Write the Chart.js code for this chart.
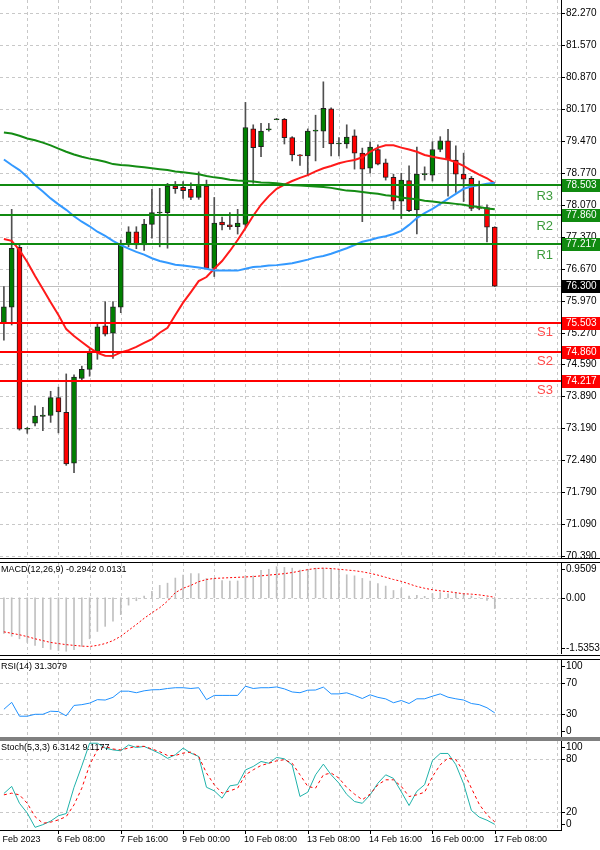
<!DOCTYPE html>
<html>
<head>
<meta charset="utf-8">
<script src="https://cdn.jsdelivr.net/npm/chart.js@4.4.1/dist/chart.umd.min.js"></script>
<style>
  body { margin: 0; background: #fff; width: 600px; height: 850px; position: relative; overflow: hidden; }
  canvas { position: absolute; left: 0; }
  .sep { position: absolute; left: 0; width: 600px; }
</style>
</head>
<body>
<canvas id="main" width="600" height="558" style="top:0px"></canvas>
<canvas id="macd" width="600" height="91" style="top:563px"></canvas>
<canvas id="rsi" width="600" height="77" style="top:660px"></canvas>
<canvas id="stoch" width="600" height="110" style="top:741px"></canvas>
<div class="sep" style="top:558px;height:1px;background:#000"></div>
<div class="sep" style="top:562px;height:1px;background:#000"></div>
<div class="sep" style="top:655px;height:1px;background:#000"></div>
<div class="sep" style="top:659px;height:1px;background:#000"></div>
<div class="sep" style="top:737px;height:4px;background:#808080"></div>
<script>
// 4H candles, oldest first
const opens  = [75.50,75.84,77.15,73.17,73.30,73.45,73.47,73.86,73.54,72.43,74.28,74.48,74.87,75.43,75.27,75.84,
                77.22,77.49,77.20,77.65,77.90,77.91,78.49,78.46,78.42,78.24,78.49,76.69,77.70,77.64,77.60,77.65,
                79.74,79.35,79.72,79.94,79.95,79.55,79.17,79.15,79.69,79.69,80.18,79.41,79.41,79.59,79.21,78.88,
                79.29,79.00,78.68,78.16,78.61,77.97,78.74,78.73,79.29,79.48,79.06,78.75,78.66,78.02,78.02,77.59];
const highs  = [76.29,77.98,77.20,73.21,73.68,73.65,74.00,74.09,74.38,74.36,74.55,74.92,75.49,75.96,75.96,77.31,
                77.60,77.60,77.76,78.42,78.44,78.55,78.59,78.59,78.56,78.80,78.62,78.24,77.81,77.91,77.98,80.32,
                79.83,79.86,79.86,79.97,79.97,79.57,79.18,79.74,80.04,80.77,80.20,79.55,79.83,79.72,79.32,79.46,
                79.39,79.08,78.75,78.77,78.93,79.34,78.91,79.46,79.57,79.73,79.37,79.21,78.70,78.60,78.08,77.60];
const lows   = [75.12,75.45,73.15,73.08,73.24,73.14,73.32,73.09,72.38,72.22,74.25,74.33,74.70,75.21,74.72,75.72,
                77.16,77.12,77.08,77.35,77.16,77.13,78.33,78.22,78.19,78.20,76.69,76.51,77.53,77.54,77.44,77.58,
                78.55,79.13,79.69,79.94,79.41,79.04,78.94,78.73,79.04,79.33,79.15,79.15,79.32,78.86,77.71,78.77,
                78.95,78.62,77.98,77.78,77.93,77.44,78.62,78.60,79.24,78.27,78.35,78.15,77.95,77.97,77.27,76.29];
const closes = [75.85,77.13,73.17,73.19,73.46,73.48,73.86,73.55,72.41,74.31,74.48,74.84,75.41,75.25,75.85,77.22,
                77.49,77.20,77.66,77.91,77.92,78.49,78.43,78.39,78.24,78.51,76.69,77.68,77.64,77.60,77.68,79.77,
                79.33,79.69,79.73,79.96,79.55,79.17,79.15,79.69,79.70,80.19,79.41,79.42,79.56,79.21,78.86,79.34,
                78.97,78.68,78.16,78.62,77.95,78.75,78.76,79.29,79.48,79.06,78.75,78.64,78.00,78.00,77.59,76.30];

// moving averages
const maRed   = [77.33,77.29,77.09,76.83,76.52,76.24,75.95,75.67,75.36,75.21,75.08,74.95,74.84,74.78,74.77,74.85,
                 74.90,74.97,75.06,75.14,75.28,75.39,75.67,75.94,76.17,76.41,76.50,76.68,76.85,77.07,77.31,77.57,
                 77.84,78.08,78.27,78.43,78.52,78.60,78.67,78.73,78.81,78.88,78.93,78.99,79.03,79.06,79.12,79.24,
                 79.33,79.38,79.38,79.33,79.29,79.24,79.17,79.13,79.10,79.07,79.01,78.93,78.83,78.74,78.66,78.55];
const maBlue  = [79.07,78.95,78.84,78.69,78.51,78.37,78.22,78.09,77.97,77.83,77.71,77.61,77.49,77.40,77.29,77.20,
                 77.12,77.05,76.99,76.91,76.85,76.81,76.77,76.75,76.73,76.71,76.68,76.64,76.64,76.64,76.64,76.68,
                 76.72,76.73,76.75,76.76,76.78,76.80,76.84,76.88,76.93,76.96,77.01,77.07,77.13,77.20,77.27,77.31,
                 77.36,77.39,77.44,77.51,77.64,77.79,77.90,77.99,78.10,78.21,78.32,78.43,78.48,78.51,78.54,78.56];
const maGreen = [79.66,79.64,79.59,79.53,79.49,79.44,79.38,79.31,79.24,79.18,79.13,79.09,79.06,79.02,78.97,78.95,
                 78.94,78.92,78.90,78.88,78.86,78.84,78.81,78.79,78.77,78.75,78.71,78.68,78.66,78.63,78.61,78.60,
                 78.59,78.57,78.56,78.55,78.53,78.51,78.50,78.49,78.48,78.47,78.45,78.42,78.39,78.38,78.36,78.34,
                 78.32,78.29,78.27,78.24,78.22,78.20,78.17,78.15,78.13,78.12,78.10,78.08,78.05,78.03,78.00,77.98];

// indicators
const macdHist = [-0.97,-1.05,-1.12,-1.22,-1.30,-1.36,-1.41,-1.44,-1.46,-1.42,-1.33,-1.12,-0.92,-0.78,-0.64,-0.46,
                  -0.20,-0.08,0.05,0.18,0.34,0.40,0.54,0.62,0.66,0.66,0.53,0.53,0.47,0.46,0.46,0.60,
                  0.60,0.75,0.78,0.85,0.83,0.81,0.76,0.78,0.81,0.81,0.80,0.76,0.63,0.60,0.53,0.46,
                  0.39,0.32,0.20,0.25,0.05,0.07,0.04,0.11,0.14,0.11,0.14,0.11,0.05,0.00,-0.07,-0.2942];
const macdSignal = [-0.93,-0.97,-1.01,-1.06,-1.12,-1.17,-1.22,-1.25,-1.28,-1.30,-1.32,-1.33,-1.30,-1.25,-1.17,-1.05,
                    -0.89,-0.73,-0.56,-0.41,-0.27,-0.09,0.14,0.26,0.34,0.44,0.50,0.53,0.54,0.55,0.56,0.57,
                    0.58,0.60,0.62,0.64,0.66,0.69,0.73,0.77,0.80,0.81,0.80,0.78,0.76,0.74,0.71,0.67,
                    0.62,0.56,0.50,0.45,0.38,0.31,0.26,0.22,0.19,0.17,0.14,0.11,0.10,0.08,0.05,0.0131];
const rsi = [36,45,27,27,29.5,29.5,33.5,33,27.5,41,42,44,48.5,48,51.5,59.5,
             59.5,57.5,60,61.3,61.5,63,64,64,63,64,48.5,54,54,54,54,66,
             63,64,64,65,62.5,58.5,57.5,60.8,61,64.8,56,56,57.4,54,50,54.8,
             51.5,49.5,44.5,47.4,43.5,49.6,49.6,53,56,51.7,49.6,48,43.5,42,38,31.3079];
const stochMain = [41,49,30,19,3,6,10,16,18.5,48,72,97.5,97.5,92,90,89,
                   95.5,92.7,93.9,90,86,80.5,84.5,92,86.4,82.6,48,44,35.7,49.6,51,67.5,
                   71.4,77,75,81.5,80,73,37.6,42.5,62,74,62,52.6,40,32,30,39.5,
                   52.6,62,58,43,27.5,43.5,51,78,86,86,73.5,52,22,14.5,11,6.3142];
const stochSignal = [39.5,41.4,39.5,30,15,7.6,8.8,11.4,15,28.3,47,73,90,94,91,90,
                     92,94,94,91,88,83.7,83.7,86.4,87.5,82.6,64,50.8,41.4,44,47,62,
                     67.6,72.5,75,77.7,79,75,62,49,47,62,64,58.3,47.8,40.3,34,40.3,
                     50.8,56.4,56.4,49,37.6,39.5,42.5,60,73.3,80.7,79,65.7,47,29,17,9.1177];

// axes and levels
const priceTicks = [82.27,81.57,80.87,80.17,79.47,78.77,78.07,77.37,76.67,75.97,75.27,74.59,73.89,73.19,72.49,71.79,71.09,70.39];
const levelNames  = ['R3','R2','R1','S1','S2','S3'];
const levelValues = [78.503,77.860,77.217,75.503,74.860,74.217];
const lastPrice = 76.300;
const macdTicks = [0.9509, 0, -1.5353];
const macdTickLabels = ['0.9509', '0.00', '-1.5353'];
const oscTicks = [100, 70, 30, 0];
const stochTicks = [100, 80, 20, 0];
const timeTickBars = [-1, 7, 15, 23, 31, 39, 47, 55, 63];
const timeTickLabels = ['3 Feb 2023','6 Feb 08:00','7 Feb 16:00','9 Feb 00:00','10 Feb 08:00',
                        '13 Feb 08:00','14 Feb 16:00','16 Feb 00:00','17 Feb 08:00'];

const slots = 72; // bars + empty space on the right
const categories = Array.from({ length: slots }, (_, i) => i);
const FONT = '"Liberation Sans", Arial, sans-serif';

// grid, right axis, labels shared by all panes
const panel = {
  id: 'panel',
  beforeDatasetsDraw(chart, args, o) {
    const { ctx, chartArea: a, scales: { x, y } } = chart;
    ctx.save();
    ctx.strokeStyle = '#c8c8c8';
    ctx.lineWidth = 1;
    ctx.setLineDash([3, 3]);
    ctx.beginPath();
    for (let i = 3; i < slots; i += 4) {
      const px = Math.round(x.getPixelForValue(i)) + 0.5;
      ctx.moveTo(px, a.top);
      ctx.lineTo(px, a.bottom);
    }
    (o.grid || []).forEach(v => {
      const py = Math.round(y.getPixelForValue(v)) + 0.5;
      ctx.moveTo(a.left, py);
      ctx.lineTo(a.right, py);
    });
    ctx.stroke();
    ctx.restore();
  },
  afterDraw(chart, args, o) {
    const { ctx, chartArea: a, scales: { y } } = chart;
    ctx.save();
    ctx.fillStyle = '#000';
    ctx.fillRect(Math.round(a.right), 0, 1, o.axisToBottom ? a.bottom + 1 : chart.height);
    ctx.font = '10px ' + FONT;
    ctx.textBaseline = 'middle';
    o.ticks.forEach((v, k) => {
      let py = y.getPixelForValue(v);
      if (o.clamp) py = Math.min(Math.max(py, a.top + 6), a.bottom - 6);
      ctx.fillRect(Math.round(a.right), Math.round(py), 4, 1);
      ctx.fillText(o.labels[k], a.right + 5, py);
    });
    if (o.title) {
      ctx.font = '9px ' + FONT;
      ctx.fillText(o.title, 1, a.top + 7);
    }
    ctx.restore();
  }
};

// support / resistance lines and price boxes
const levels = {
  id: 'levels',
  beforeDatasetsDraw(chart) {
    const { ctx, chartArea: a, scales: { y } } = chart;
    const py = Math.round(y.getPixelForValue(lastPrice)) + 0.5;
    ctx.save();
    ctx.strokeStyle = '#c0c0c0';
    ctx.lineWidth = 1;
    ctx.beginPath();
    ctx.moveTo(a.left, py);
    ctx.lineTo(a.right, py);
    ctx.stroke();
    ctx.restore();
  },
  afterDatasetsDraw(chart) {
    const { ctx, chartArea: a, scales: { y } } = chart;
    ctx.save();
    levelValues.forEach((v, k) => {
      const res = levelNames[k][0] === 'R';
      const py = Math.round(y.getPixelForValue(v));
      ctx.fillStyle = res ? '#108a10' : '#ff0000';
      ctx.fillRect(a.left, py - 1, a.right - a.left, 2);
      ctx.fillStyle = res ? '#3c9c3c' : '#ff4a4a';
      ctx.font = '13px ' + FONT;
      ctx.textAlign = 'right';
      ctx.textBaseline = 'middle';
      ctx.fillText(levelNames[k], a.right - 8, py + (res ? 11 : 9));
    });
    ctx.restore();
  },
  afterDraw(chart) {
    const { ctx, chartArea: a, scales: { y } } = chart;
    ctx.save();
    ctx.font = '10px ' + FONT;
    ctx.textBaseline = 'middle';
    const box = (v, bg) => {
      const py = Math.round(y.getPixelForValue(v));
      ctx.fillStyle = bg;
      ctx.fillRect(a.right + 1, py - 6, chart.width - a.right - 1, 13);
      ctx.fillStyle = '#fff';
      ctx.fillText(v.toFixed(3), a.right + 5, py + 0.5);
    };
    levelValues.forEach((v, k) => box(v, levelNames[k][0] === 'R' ? '#108a10' : '#ff0000'));
    box(lastPrice, '#000');
    ctx.restore();
  }
};

// time axis under the last pane
const timeAxis = {
  id: 'timeAxis',
  afterDraw(chart) {
    const { ctx, chartArea: a, scales: { x } } = chart;
    ctx.save();
    ctx.fillStyle = '#000';
    ctx.fillRect(0, Math.round(a.bottom), Math.round(a.right) + 1, 1);
    ctx.font = '9px ' + FONT;
    ctx.textBaseline = 'middle';
    timeTickBars.forEach((b, k) => {
      const px = Math.round(x.getPixelForValue(b));
      ctx.fillRect(px, Math.round(a.bottom), 1, 4);
      ctx.fillText(timeTickLabels[k], px - 1, a.bottom + 10);
    });
    ctx.restore();
  }
};

function paneOptions(min, max, bottomPad, panelOpts) {
  return {
    responsive: false,
    animation: false,
    events: [],
    layout: { padding: { left: 0, right: 39, top: 0, bottom: bottomPad } },
    plugins: { legend: { display: false }, tooltip: { enabled: false }, panel: panelOpts },
    scales: {
      x: { type: 'category', display: false, offset: true },
      y: { display: false, min: min, max: max }
    }
  };
}

const lineSet = (data, color, width, dash, order) => ({
  type: 'line', data, borderColor: color, borderWidth: width, borderDash: dash || [],
  pointRadius: 0, tension: 0, fill: false, order
});

// main price pane
new Chart(document.getElementById('main'), {
  type: 'bar',
  data: {
    labels: categories,
    datasets: [
      lineSet(maGreen, '#148c14', 2, null, 0),
      lineSet(maBlue, '#3399ff', 2, null, 0),
      lineSet(maRed, '#ff1a1a', 2, null, 0),
      {
        data: opens.map((o, i) => [o, closes[i]]),
        backgroundColor: opens.map((o, i) => closes[i] >= o ? '#008000' : '#ff0000'),
        borderColor: '#202020', borderWidth: 1, borderSkipped: false,
        barThickness: 5, minBarLength: 1, grouped: false, order: 1
      },
      {
        data: lows.map((l, i) => [l, highs[i]]),
        backgroundColor: '#505050',
        barThickness: 1, grouped: false, order: 2
      }
    ]
  },
  options: paneOptions(70.353, 82.56, 0, {
    grid: priceTicks, ticks: priceTicks, labels: priceTicks.map(v => v.toFixed(3))
  }),
  plugins: [panel, levels]
});

// MACD
new Chart(document.getElementById('macd'), {
  type: 'bar',
  data: {
    labels: categories,
    datasets: [
      lineSet(macdSignal, '#ff0000', 1, [2, 2], 0),
      { data: macdHist, backgroundColor: '#c0c0c0', barThickness: 1, order: 1 }
    ]
  },
  options: paneOptions(-1.5353, 0.9509, 0, {
    grid: [0], ticks: macdTicks, labels: macdTickLabels, clamp: true,
    title: 'MACD(12,26,9) -0.2942 0.0131'
  }),
  plugins: [panel]
});

// RSI
new Chart(document.getElementById('rsi'), {
  type: 'line',
  data: {
    labels: categories,
    datasets: [lineSet(rsi, '#1e90ff', 1, null, 0)]
  },
  options: paneOptions(0, 100, 0, {
    grid: [70, 30], ticks: oscTicks, labels: oscTicks.map(String), clamp: true,
    title: 'RSI(14) 31.3079'
  }),
  plugins: [panel]
});

// Stochastic
new Chart(document.getElementById('stoch'), {
  type: 'line',
  data: {
    labels: categories,
    datasets: [
      lineSet(stochSignal, '#ff0000', 1, [3, 3], 0),
      lineSet(stochMain, '#20b2aa', 1, null, 1)
    ]
  },
  options: paneOptions(0, 100, 21, {
    grid: [80, 20], ticks: stochTicks, labels: stochTicks.map(String), clamp: true,
    axisToBottom: true, title: 'Stoch(5,3,3) 6.3142 9.1177'
  }),
  plugins: [panel, timeAxis]
});
</script>
</body>
</html>
